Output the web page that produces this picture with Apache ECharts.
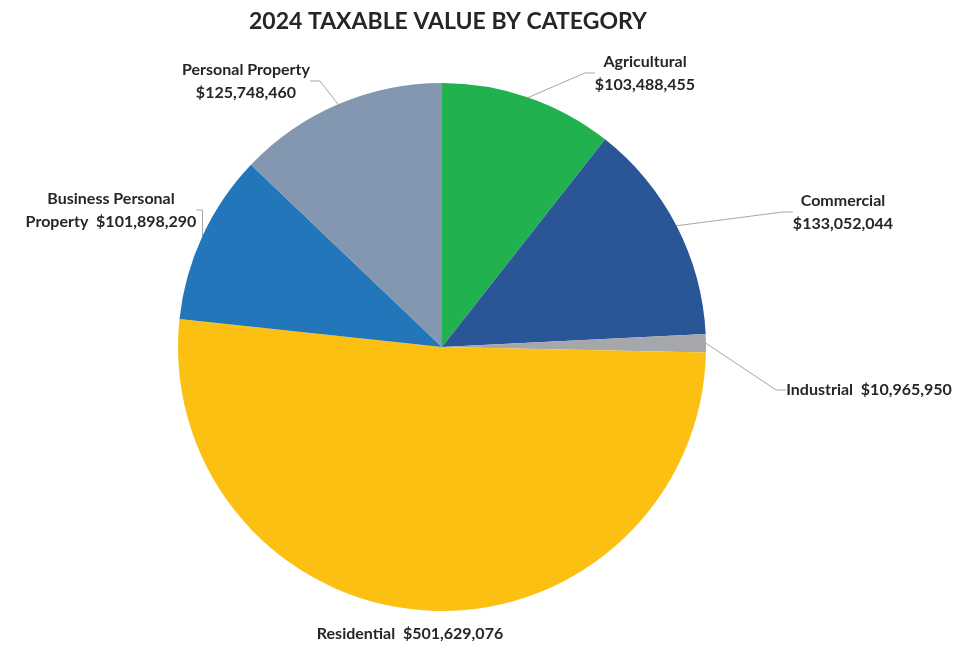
<!DOCTYPE html>
<html>
<head>
<meta charset="utf-8">
<script src="https://cdn.jsdelivr.net/npm/echarts@6/dist/echarts.min.js"></script>
<style>
  html, body { margin: 0; padding: 0; background: #fff; }
  #chart { width: 961px; height: 647px; }
</style>
</head>
<body>
<div id="chart"></div>
<script>
// data
const categories = ['Agricultural', 'Commercial', 'Industrial', 'Residential', 'Business Personal Property', 'Personal Property'];
const values = [103488455, 133052044, 10965950, 501629076, 101898290, 125748460];

// label text layout (first line / second line)
const labelLines = [
    ['Agricultural', '$'],
    ['Commercial', '$'],
    ['Industrial  $'],
    ['Residential  $'],
    ['Business Personal', 'Property  $'],
    ['Personal Property', '$'],
];

const colors = ['#21b14f', '#2a5597', '#a5a7aa', '#fbc012', '#2376b9', '#8497b0'];
// label block centres in px
const labelPos = [[645, 73], [843, 212], [869, 390], [410, 634], [111, 210], [246, 81]];
const noLine = [3];

const fmt = (v) => '$' + v.toLocaleString('en-US');

function labelText(i) {
    const parts = labelLines[i].slice();
    const last = parts.length - 1;
    parts[last] = parts[last].replace('$', fmt(values[i]));
    return parts.join('\n');
}

const chart = echarts.init(document.getElementById('chart'));

chart.setOption({
    animation: false,
    title: {
        text: '2024 TAXABLE VALUE BY CATEGORY',
        left: 244,
        top: 5,
        textStyle: { fontFamily: 'Lato', fontSize: 23, fontWeight: 'bold', color: '#262626' },
    },
    series: [
        {
            type: 'pie',
            center: [442, 347],
            radius: 264,
            startAngle: 90,
            clockwise: true,
            data: categories.map((name, i) => ({
                name,
                value: values[i],
                itemStyle: { color: colors[i] },
                labelLine: { show: !noLine.includes(i) },
            })),
            itemStyle: { borderWidth: 0 },
            emphasis: { disabled: true },
            label: {
                show: true,
                position: 'outside',
                formatter: (p) => labelText(p.dataIndex),
                fontFamily: 'Lato',
                fontSize: 16,
                fontWeight: 'bold',
                color: '#262626',
                lineHeight: 23,
                align: 'center',
                overflow: 'none',
            },
            labelLine: {
                length: 15,
                length2: 10,
                lineStyle: { color: '#a6a6a6', width: 1 },
            },
            labelLayout: (p) => ({
                x: labelPos[p.dataIndex][0],
                y: labelPos[p.dataIndex][1],
                align: 'center',
                verticalAlign: 'middle',
            }),
        },
    ],
});
</script>
</body>
</html>
